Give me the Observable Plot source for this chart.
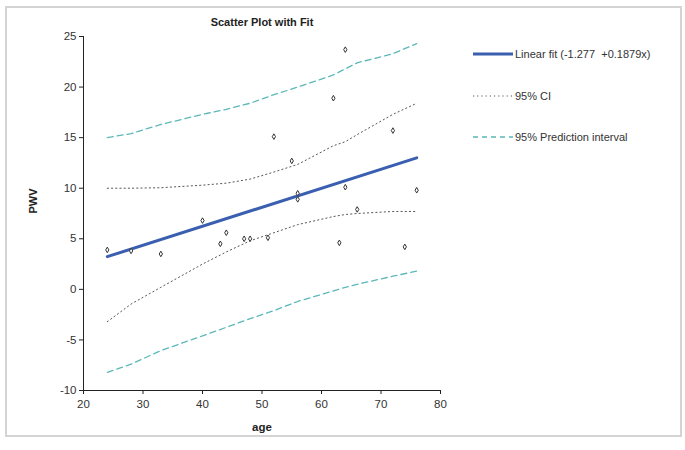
<!DOCTYPE html>
<html>
<head>
<meta charset="utf-8">
<script src="https://cdn.jsdelivr.net/npm/d3@7"></script>
<script src="https://cdn.jsdelivr.net/npm/@observablehq/plot@0.6"></script>
<style>
  html, body { margin: 0; padding: 0; background: #fff; }
  #wrap { position: relative; width: 685px; height: 450px; font-family: "Liberation Sans", Arial, sans-serif; }
  #frame { position: absolute; left: 5px; top: 6px; width: 677px; height: 431px; border: 2px solid #d4d4d4; box-sizing: border-box; pointer-events: none; }
  #chart { position: absolute; left: 0; top: 0; }
  #legend { position: absolute; left: 0; top: 0; }
  #legend text { white-space: pre; }
</style>
</head>
<body>
<div id="wrap">
  <div id="chart"></div>
  <svg id="legend" width="685" height="450"></svg>
  <div id="frame"></div>
</div>
<script>
// Observed data
const ages = [24, 28, 33, 40, 43, 44, 47, 48, 51, 52, 55, 56, 56, 62, 63, 64, 64, 66, 72, 74, 76];
const pwv  = [3.9, 3.8, 3.5, 6.8, 4.5, 5.6, 5.0, 5.0, 5.1, 15.1, 12.7, 9.5, 8.9, 18.9, 4.6, 23.7, 10.1, 7.9, 15.7, 4.2, 9.8];

// Fit coefficients
const intercept = -1.277;
const slope = 0.1879;
const fitAges = [24, 76];

// Band curves
const bandAges = [24, 28, 33, 40, 44, 48, 52, 56, 62, 64, 66, 72, 76];
const ciUpper  = [10.0, 10.0, 10.05, 10.3, 10.5, 10.9, 11.6, 12.35, 14.2, 14.6, 15.3, 17.3, 18.4];
const ciLower  = [-3.2, -1.45, 0.2, 2.5, 3.7, 4.8, 5.6, 6.4, 7.2, 7.4, 7.5, 7.7, 7.7];
const piUpper  = [15.0, 15.4, 16.3, 17.3, 17.8, 18.4, 19.25, 20.0, 21.2, 21.8, 22.4, 23.3, 24.3];
const piLower  = [-8.2, -7.4, -6.05, -4.6, -3.75, -2.9, -2.1, -1.2, -0.15, 0.2, 0.5, 1.3, 1.8];

const xTicks = [20, 30, 40, 50, 60, 70, 80];
const yTicks = [-10, -5, 0, 5, 10, 15, 20, 25];

const title = "Scatter Plot with Fit";
const legendLabels = ["Linear fit (-1.277  +0.1879x)", "95% CI", "95% Prediction interval"];

const points = ages.map((a, i) => ({x: a, y: pwv[i]}));
const fit = fitAges.map(a => ({x: a, y: intercept + slope * a}));
const band = (vals) => bandAges.map((a, i) => ({x: a, y: vals[i]}));

const BLUE = "#3a5fb0", TEAL = "#5cb8b8", GRAY = "#555";
const fmt = d => String(d);

const plot = Plot.plot({
  width: 685,
  height: 450,
  marginLeft: 83,
  marginRight: 245,
  marginTop: 36,
  marginBottom: 60,
  style: {fontFamily: "Liberation Sans, Arial, sans-serif", fontSize: "11px", color: "#333", background: "transparent"},
  x: {domain: [20, 80], ticks: xTicks, label: null},
  y: {domain: [-10, 25], ticks: yTicks, label: null},
  marks: [
    Plot.axisX({ticks: xTicks, tickFormat: fmt, tickSize: 4, tickPadding: 5, fontSize: 11.5, stroke: "#222", fill: "#333"}),
    Plot.axisY({ticks: yTicks, tickFormat: fmt, tickSize: 4, tickPadding: 3, fontSize: 11.5, stroke: "#222", fill: "#333"}),
    Plot.ruleX([20], {stroke: "#222"}),
    Plot.ruleY([-10], {stroke: "#222"}),
    Plot.line(band(piUpper), {x: "x", y: "y", stroke: TEAL, strokeWidth: 1.3, strokeDasharray: "6,4"}),
    Plot.line(band(piLower), {x: "x", y: "y", stroke: TEAL, strokeWidth: 1.3, strokeDasharray: "6,4"}),
    Plot.line(band(ciUpper), {x: "x", y: "y", stroke: GRAY, strokeWidth: 1, strokeDasharray: "1.2,3"}),
    Plot.line(band(ciLower), {x: "x", y: "y", stroke: GRAY, strokeWidth: 1, strokeDasharray: "1.2,3"}),
    Plot.line(fit, {x: "x", y: "y", stroke: BLUE, strokeWidth: 3}),
    Plot.dot(points, {x: "x", y: "y", symbol: "diamond", r: 1.7, stroke: "#333", strokeWidth: 1, fill: "white"}),
    Plot.text([title], {frameAnchor: "top", dy: -18, fontWeight: "bold", fontSize: 11, fill: "#222"}),
    Plot.text(["age"], {frameAnchor: "bottom", dy: 40, fontWeight: "bold", fontSize: 11.5, fill: "#222"}),
    Plot.text(["PWV"], {frameAnchor: "left", dx: -50, rotate: -90, fontWeight: "bold", fontSize: 11, fill: "#222"})
  ]
});
document.getElementById("chart").appendChild(plot);

// Legend
const lg = d3.select("#legend");
const styles = [
  {stroke: BLUE, width: 3, dash: null},
  {stroke: GRAY, width: 1, dash: "1.2,3"},
  {stroke: TEAL, width: 1.3, dash: "5,4"}
];
const rows = [54, 96, 137];
legendLabels.forEach((lab, i) => {
  const g = lg.append("g").attr("transform", `translate(473,${rows[i]})`);
  g.append("line").attr("x1", 0).attr("x2", 40).attr("y1", 0).attr("y2", 0)
    .attr("stroke", styles[i].stroke).attr("stroke-width", styles[i].width)
    .attr("stroke-dasharray", styles[i].dash);
  g.append("text").attr("x", 42).attr("y", 0).attr("dy", "0.35em")
    .attr("font-size", 11).attr("fill", "#333")
    .attr("font-family", "Liberation Sans, Arial, sans-serif").text(lab);
});
</script>
</body>
</html>
